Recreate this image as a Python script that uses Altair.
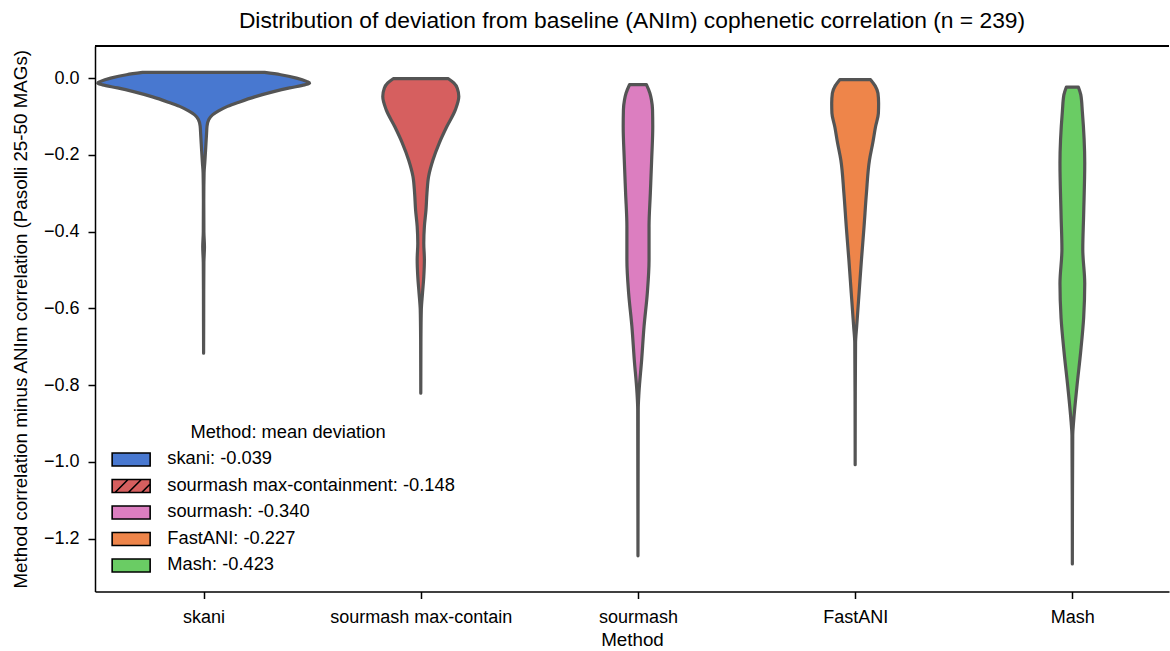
import json
import altair as alt
import pandas as pd

# ---- categories / legend ----
methods = ["skani", "sourmash max-containment", "sourmash", "FastANI", "Mash"]
tick_labels = ["skani", "sourmash max-contain", "sourmash", "FastANI", "Mash"]
mean_dev = [-0.039, -0.148, -0.340, -0.227, -0.423]
colors = ["#4878d0", "#d65f5f", "#dc7ec0", "#ee854a", "#6acc64"]

# ---- violin profiles: deviation value, half-width (category units) ----
skani_v = [0.0151, 0.0091, 0.0003, -0.0083, -0.0128, -0.0174, -0.0253, -0.0357, -0.0487, -0.0617,
           -0.0734, -0.0852, -0.0956, -0.1073, -0.1242, -0.1424, -0.1867, -0.22, -0.2466, -0.3169,
           -0.40, -0.44, -0.48, -0.55, -0.629, -0.7167]
skani_w = [0.281, 0.355, 0.428, 0.474, 0.488, 0.465, 0.396, 0.318, 0.235, 0.166,
           0.110, 0.069, 0.041, 0.024, 0.0160, 0.0138, 0.0092, 0.0055, 0.0023, 0.0009,
           0.0014, 0.0040, 0.0014, 0.0007, 0.0005, 0.0]

maxc_v = [-0.0013, -0.0122, -0.026, -0.0479, -0.0826, -0.126, -0.169, -0.213, -0.256, -0.299,
          -0.343, -0.386, -0.430, -0.473, -0.517, -0.560, -0.603, -0.681, -0.821]
maxc_w = [0.127, 0.152, 0.168, 0.175, 0.159, 0.120, 0.085, 0.056, 0.036, 0.0285,
          0.024, 0.0166, 0.0138, 0.0166, 0.0138, 0.008, 0.0025, 0.0007, 0.0]

sour_v = [-0.0169, -0.0391, -0.0565, -0.0826, -0.126, -0.213, -0.299, -0.386, -0.473, -0.560,
          -0.647, -0.734, -0.820, -0.864, -1.245]
sour_w = [0.039, 0.055, 0.062, 0.067, 0.068, 0.063, 0.057, 0.051, 0.051, 0.043,
          0.028, 0.017, 0.0045, 0.0012, 0.0]

fast_v = [-0.0039, -0.020, -0.039, -0.065, -0.091, -0.126, -0.169, -0.213, -0.299, -0.386,
          -0.473, -0.560, -0.647, -0.690, -0.838, -1.0076]
fast_w = [0.071, 0.092, 0.105, 0.108, 0.107, 0.094, 0.081, 0.066, 0.052, 0.041,
          0.029, 0.018, 0.007, 0.0018, 0.0005, 0.0]

mash_v = [-0.0234, -0.0435, -0.087, -0.221, -0.356, -0.446, -0.535, -0.625, -0.715, -0.804,
          -0.894, -0.930, -1.098, -1.266]
mash_w = [0.028, 0.039, 0.046, 0.057, 0.052, 0.048, 0.057, 0.052, 0.038, 0.021,
          0.006, 0.0018, 0.0005, 0.0]

profiles = [(skani_v, skani_w), (maxc_v, maxc_w), (sour_v, sour_w), (fast_v, fast_w), (mash_v, mash_w)]

rows = []
for i, (m, (vs, ws)) in enumerate(zip(methods, profiles)):
    for v, w in zip(vs, ws):
        rows.append({"method": m, "pos": i, "value": v, "w": w})
df = pd.DataFrame(rows)

legend_labels = [f"{m}: {d:.3f}" for m, d in zip(methods, mean_dev)]
legend_df = pd.DataFrame({"entry": methods})

FONT = "Liberation Sans"
W, H = 1074, 545.5

rect = "M-2.714,-0.929H2.714V0.929H-2.714Z"
hatch = rect + " M-2.3,0.929L-0.443,-0.929 M-0.4,0.929L1.457,-0.929 M1.5,0.929L2.714,-0.285"
shapes = [rect, hatch, rect, rect, rect]

label_expr = f"{json.dumps(legend_labels)}[indexof({json.dumps(methods)}, datum.label)]"
x_label_expr = f"{json.dumps(tick_labels)}[datum.value]"

legend = alt.Legend(
    title="Method: mean deviation", orient="none", legendX=27, legendY=378,
    direction="vertical", symbolSize=196, labelOffset=27, rowPadding=6.5,
    titlePadding=8, titleAnchor="middle", padding=0, labelLimit=0, titleLimit=0,
    labelFont=FONT, titleFont=FONT, labelFontSize=18.3, titleFontSize=18.3,
    titleFontWeight="normal", labelColor="black", titleColor="black",
    symbolStrokeColor="black", symbolStrokeWidth=1.6, labelExpr=label_expr,
)

x_scale = alt.Scale(domain=[-0.5, 4.445], nice=False, zero=False)
y_scale = alt.Scale(domain=[-1.338, 0.084], nice=False, zero=False)

violins = alt.Chart(df).transform_calculate(
    lo="datum.pos - datum.w", hi="datum.pos + datum.w"
).mark_area(
    orient="horizontal", stroke="#545454", strokeWidth=3.2, strokeJoin="round",
    interpolate="monotone", opacity=1,
).encode(
    y=alt.Y("value:Q", scale=y_scale, axis=alt.Axis(
        title="Method correlation minus ANIm correlation (Pasolli 25-50 MAGs)",
        values=[-1.2, -1.0, -0.8, -0.6, -0.4, -0.2, 0.0], format=".1f",
        tickSize=7, labelPadding=9, titlePadding=13)),
    x=alt.X("lo:Q", scale=x_scale, axis=alt.Axis(
        title="Method", values=[0, 1, 2, 3, 4], labelExpr=x_label_expr, labelLimit=0,
        tickSize=7, labelPadding=10, titlePadding=4)),
    x2="hi:Q",
    fill=alt.Fill("method:N", scale=alt.Scale(domain=methods, range=colors), legend=None),
    detail="method:N",
)

legend_pts = alt.Chart(legend_df).mark_point(
    filled=True, clip=True, strokeWidth=1.6, opacity=1
).encode(
    x=alt.value(-300), y=alt.value(-300),
    fill=alt.Fill("entry:N", scale=alt.Scale(domain=methods, range=colors), legend=legend),
    shape=alt.Shape("entry:N", scale=alt.Scale(domain=methods, range=shapes), legend=legend),
    stroke=alt.Stroke("entry:N", scale=alt.Scale(domain=methods, range=["black"] * len(methods)),
                      legend=legend),
)

top_spine = alt.Chart(legend_df).mark_rule(color="black", strokeWidth=1.5).encode(
    x=alt.value(0), x2=alt.value(W), y=alt.value(0)
)

chart = alt.layer(violins, legend_pts, top_spine).resolve_scale(
    fill="independent", shape="independent", stroke="independent"
).properties(
    width=W, height=H,
    title=alt.TitleParams(
        "Distribution of deviation from baseline (ANIm) cophenetic correlation (n = 239)",
        font=FONT, fontSize=22.8, fontWeight="normal", color="black",
        anchor="middle", baseline="alphabetic", offset=16, dy=22, frame="group"),
    padding={"left": 95, "top": 46, "right": 1, "bottom": 59.5},
    autosize=alt.AutoSizeParams(type="none"),
).configure_view(stroke=None).configure_axis(
    labelFont=FONT, titleFont=FONT, labelFontSize=18, titleFontSize=18.8,
    titleFontWeight="normal", labelColor="black", titleColor="black",
    tickColor="black", domainColor="black", tickWidth=1.5, domainWidth=1.5, grid=False,
)

chart.save("out.html", embed_options={"renderer": "svg", "actions": False})
